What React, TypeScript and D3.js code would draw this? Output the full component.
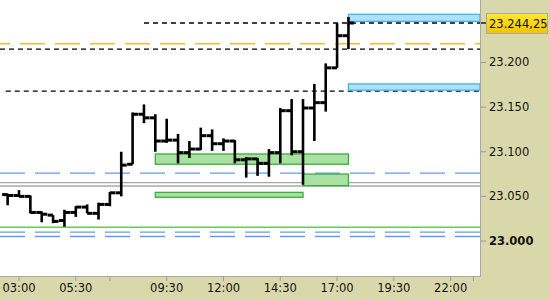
import React from "react";
import * as d3 from "d3";

const barTimes = ["02:30","03:00","03:30","04:00","04:30","05:00","05:30","06:00","06:30","07:00","07:30","08:00","08:30","09:00","09:30","10:00","10:30","11:00","11:30","12:00","12:30","13:00","13:30","14:00","14:30","15:00","15:30","16:00","16:30","17:00","17:30"];
const opens =  [23052,23051,23050,23032,23029,23023,23032,23038,23031,23041,23054,23086,23142,23138,23112,23113,23099,23103,23118,23109,23112,23091,23092,23087,23099,23146,23100,23149,23155,23194,23230];
const highs =  [23053,23057,23051,23033,23029,23035,23039,23041,23043,23055,23100,23144,23153,23142,23137,23120,23112,23127,23125,23115,23113,23094,23093,23103,23149,23159,23159,23176,23199,23244,23251];
const lows =   [23040,23050,23031,23021,23020,23016,23027,23031,23024,23039,23050,23086,23132,23100,23110,23087,23093,23102,23101,23101,23087,23071,23073,23072,23087,23096,23063,23112,23145,23194,23215];
const closes = [23051,23050,23032,23030,23022,23032,23038,23031,23041,23054,23085,23142,23138,23112,23113,23099,23103,23118,23109,23112,23091,23092,23087,23099,23146,23100,23149,23155,23194,23230,23244.25];

const yTicks = [23000, 23050, 23100, 23150, 23200];
const xTickLabels = ["03:00","05:30","09:30","12:00","14:30","17:00","19:30","22:00"];
const xTickMarks = ["03:00","05:30","07:00","09:30","12:00","14:30","17:00","19:30","22:00","23:00"];
const lastPrice = 23244.25;
const lastPriceLabel = "23.244,25";

// horizontal level lines: [value, kind, startTime]
const levelValues = [23244.25, 23221, 23215, 23168, 23076, 23065.3, 23061.6, 23015.4, 23010, 23005];
const levelKinds = ["black","orange","black","black","blue","gray","gray","green","blue","blue"];
const levelStarts = ["08:30","","","02:25","","","","","",""];

// zones: [top, bottom, start, end?]
const zoneTops = [23254, 23176, 23097.5, 23075, 23054.5];
const zoneBottoms = [23246, 23169, 23086, 23062, 23049];
const zoneStarts = ["17:30","17:30","09:00","15:30","09:00"];
const zoneEnds = ["", "", "17:30","17:30","15:30"];
const zoneKinds = ["blue","blue","green","green","green"];

const W = 550, H = 300;
const plotR = 480, plotB = 276;

const toH = (s: string) => { const [h, m] = s.split(":").map(Number); return h + m / 60; };

export default function App() {
  const x = d3.scaleLinear().domain([3 - 19 / 22.72, 3 + 461 / 22.72]).range([0, plotR]);
  const y = d3.scaleLinear().domain([22960.8, 23270]).range([plotB, 0]);
  const font = "'DejaVu Sans', Verdana, sans-serif";
  const tick = 5.5;

  const lineStyle = (k: string) => {
    switch (k) {
      case "black": return { stroke: "#000", sw: 1.3, dash: "5,4", off: 0 };
      case "orange": return { stroke: "#ffbb22", sw: 1.6, dash: "25,10", off: 15 };
      case "blue": return { stroke: "#6699ee", sw: 1.4, dash: "25,10", off: 0 };
      case "gray": return { stroke: "#a8a8a8", sw: 1.3, dash: "", off: 0 };
      default: return { stroke: "#66cc55", sw: 1.4, dash: "", off: 0 };
    }
  };

  return (
    <svg width={W} height={H} style={{ position: "absolute", left: 0, top: 0 }} fontFamily={font}>
      <defs>
        <linearGradient id="yel" x1="0" y1="0" x2="0" y2="1">
          <stop offset="0" stopColor="#ffe830" />
          <stop offset="1" stopColor="#f2c200" />
        </linearGradient>
      </defs>
      <rect x={0} y={0} width={W} height={H} fill="#d9d8ab" />
      <rect x={0} y={0} width={plotR} height={plotB} fill="#ffffff" />

      {levelValues.map((v, i) => {
        const s = lineStyle(levelKinds[i]);
        const x0 = levelStarts[i] ? x(toH(levelStarts[i])) : 0;
        return (
          <line key={"l" + i} x1={x0} x2={plotR} y1={y(v)} y2={y(v)} stroke={s.stroke}
            strokeWidth={s.sw} strokeDasharray={s.dash || undefined} strokeDashoffset={s.off} />
        );
      })}

      {zoneTops.map((t, i) => {
        const x0 = x(toH(zoneStarts[i]));
        const x1 = zoneEnds[i] ? x(toH(zoneEnds[i])) : plotR;
        const blue = zoneKinds[i] === "blue";
        return (
          <rect key={"z" + i} x={x0} y={y(t)} width={x1 - x0} height={y(zoneBottoms[i]) - y(t)}
            fill={blue ? "#aee0fa" : "#aae0a2"} stroke={blue ? "#3fb4ee" : "#3aae3a"} strokeWidth={1.3} />
        );
      })}

      {barTimes.map((t, i) => {
        const cx = x(toH(t));
        return (
          <g key={"b" + i} stroke="#000">
            <line x1={cx} x2={cx} y1={y(highs[i]) } y2={y(lows[i])} strokeWidth={2.6} />
            <line x1={cx - tick} x2={cx} y1={y(opens[i])} y2={y(opens[i])} strokeWidth={3} />
            <line x1={cx} x2={cx + tick} y1={y(closes[i])} y2={y(closes[i])} strokeWidth={3} />
          </g>
        );
      })}

      <line x1={plotR + 0.5} x2={plotR + 0.5} y1={0} y2={plotB + 1} stroke="#a8a8a8" />
      <line x1={0} x2={plotR + 1} y1={plotB + 0.5} y2={plotB + 0.5} stroke="#a8a8a8" />

      {yTicks.map((v) => (
        <g key={"yt" + v}>
          <line x1={plotR + 1} x2={plotR + 6} y1={y(v)} y2={y(v)} stroke="#999" />
          <text x={489} y={y(v)} dominantBaseline="central" fontSize={11.5}
            fontWeight={v === 23000 ? "bold" : "normal"} fill="#111">
            {d3.format(",.3f")(v / 1000).replace(",", "")}
          </text>
        </g>
      ))}

      {xTickMarks.map((t) => (
        <line key={"xm" + t} x1={x(toH(t))} x2={x(toH(t))} y1={plotB + 1} y2={plotB + 5} stroke="#999" />
      ))}
      {xTickLabels.map((t) => (
        <text key={"xl" + t} x={x(toH(t))} y={288} textAnchor="middle" dominantBaseline="central"
          fontSize={11.5} fill="#111">{t}</text>
      ))}

      <line x1={plotR + 1} x2={487} y1={y(lastPrice)} y2={y(lastPrice)} stroke="#000" strokeWidth={1.3} />
      <rect x={486.5} y={13.5} width={61} height={20} fill="url(#yel)" stroke="#aaaaaa" />
      <text x={489} y={y(lastPrice) + 1} dominantBaseline="central" fontSize={11.5} fill="#111">{lastPriceLabel}</text>
    </svg>
  );
}
